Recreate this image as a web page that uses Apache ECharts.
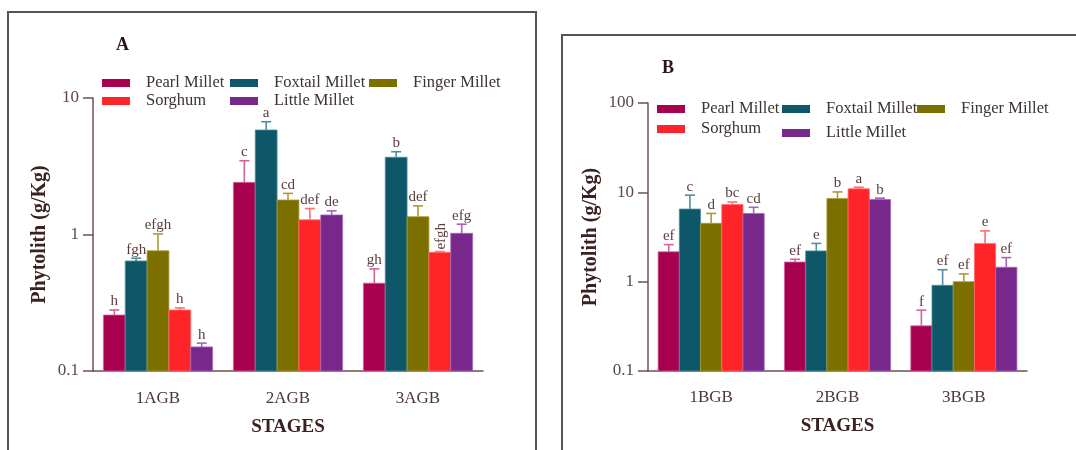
<!DOCTYPE html>
<html>
<head>
<meta charset="utf-8">
<script src="https://cdn.jsdelivr.net/npm/echarts@6/dist/echarts.min.js"></script>
<style>
  html, body { margin: 0; padding: 0; background: #fff; }
  #chart { width: 1076px; height: 450px; }
</style>
</head>
<body>
<div id="chart"></div>
<script>
// categories
const stagesA = ['1AGB', '2AGB', '3AGB'];
const stagesB = ['1BGB', '2BGB', '3BGB'];
const crops = ['Pearl Millet', 'Foxtail Millet', 'Finger Millet', 'Sorghum', 'Little Millet'];

// panel A means (g/Kg), error bar tops and letters
const pearlA = [0.257, 2.41, 0.44];
const foxtailA = [0.64, 5.83, 3.68];
const fingerA = [0.76, 1.79, 1.35];
const sorghumA = [0.28, 1.28, 0.74];
const littleA = [0.15, 1.39, 1.02];
const pearlAErr = [0.28, 3.47, 0.56];
const foxtailAErr = [0.67, 6.7, 4.04];
const fingerAErr = [1.01, 2.0, 1.62];
const sorghumAErr = [0.29, 1.55, 0.75];
const littleAErr = [0.16, 1.49, 1.19];
const pearlALetters = ['h', 'c', 'gh'];
const foxtailALetters = ['fgh', 'a', 'b'];
const fingerALetters = ['efgh', 'cd', 'def'];
const sorghumALetters = ['h', 'def', 'efgh'];
const littleALetters = ['h', 'de', 'efg'];

// panel B
const pearlB = [2.16, 1.66, 0.32];
const foxtailB = [6.5, 2.21, 0.91];
const fingerB = [4.5, 8.55, 1.0];
const sorghumB = [7.3, 10.95, 2.68];
const littleB = [5.8, 8.3, 1.45];
const pearlBErr = [2.6, 1.78, 0.48];
const foxtailBErr = [9.3, 2.68, 1.36];
const fingerBErr = [5.8, 10.1, 1.22];
const sorghumBErr = [7.8, 11.4, 3.7];
const littleBErr = [6.8, 8.6, 1.86];
const pearlBLetters = ['ef', 'ef', 'f'];
const foxtailBLetters = ['c', 'e', 'ef'];
const fingerBLetters = ['d', 'b', 'ef'];
const sorghumBLetters = ['bc', 'a', 'e'];
const littleBLetters = ['cd', 'b', 'ef'];

const colors = ['#a6004e', '#0d5769', '#7b6f00', '#ff2427', '#78278a'];
const tints = ['#d2649c', '#4f8fa1', '#aa9c33', '#ff6f6f', '#a465b9'];
const SERIF = 'Liberation Serif';

const panels = [
  { cats: stagesA, max: 10,
    vals: [pearlA, foxtailA, fingerA, sorghumA, littleA],
    errs: [pearlAErr, foxtailAErr, fingerAErr, sorghumAErr, littleAErr],
    letters: [pearlALetters, foxtailALetters, fingerALetters, sorghumALetters, littleALetters] },
  { cats: stagesB, max: 100,
    vals: [pearlB, foxtailB, fingerB, sorghumB, littleB],
    errs: [pearlBErr, foxtailBErr, fingerBErr, sorghumBErr, littleBErr],
    letters: [pearlBLetters, foxtailBLetters, fingerBLetters, sorghumBLetters, littleBLetters] }
];

// the one letter group that is written upright in the figure
const uprightLabel = { panel: 0, crop: 3, stage: 2 };

const chart = echarts.init(document.getElementById('chart'), null, { renderer: 'canvas' });

function makeSeries(p, i) {
  const pan = panels[p];
  return {
    type: 'custom',
    name: crops[i],
    xAxisIndex: p,
    yAxisIndex: p,
    itemStyle: { color: colors[i] },
    encode: { x: 0, y: 1 },
    data: pan.cats.map((c, k) => [k, pan.vals[i][k]]),
    renderItem(params, api) {
      const k = params.dataIndex;
      const band = api.size([1, 0])[0];
      const barW = band * 0.168;
      const pt = api.coord([api.value(0), api.value(1)]);
      const cx = pt[0] + (i - 2) * barW;
      const top = pt[1];
      const base = api.coord([api.value(0), 0.1])[1];
      const errY = api.coord([api.value(0), pan.errs[i][k]])[1];
      const rotated = p === uprightLabel.panel && i === uprightLabel.crop && k === uprightLabel.stage;
      const label = rotated
        ? { type: 'text', x: cx + 1, y: errY - 2, rotation: Math.PI / 2, z2: 100,
            style: { text: pan.letters[i][k], align: 'left', verticalAlign: 'middle',
                     fontSize: 15, fontFamily: SERIF, fill: '#5b3d3d' } }
        : { type: 'text', x: cx, y: errY - 1, z2: 100,
            style: { text: pan.letters[i][k], align: 'center', verticalAlign: 'bottom',
                     fontSize: 15, fontFamily: SERIF, fill: '#5b3d3d' } };
      return {
        type: 'group',
        children: [
          { type: 'rect', shape: { x: cx - barW / 2, y: top, width: barW, height: base - top },
            style: { fill: colors[i], stroke: tints[i], lineWidth: 0.8 } },
          { type: 'line', shape: { x1: cx, y1: top, x2: cx, y2: errY },
            style: { stroke: tints[i], lineWidth: 1.6 } },
          { type: 'line', shape: { x1: cx - 5, y1: errY, x2: cx + 5, y2: errY },
            style: { stroke: tints[i], lineWidth: 1.6 } },
          label
        ]
      };
    }
  };
}

const axisColor = '#6e5050';
const grids = [
  { left: 93, top: 98, width: 390, height: 273 },
  { left: 648, top: 103, width: 379, height: 268 }
];

function xAxis(p, gap, labelMargin) {
  return {
    type: 'category', gridIndex: p, data: panels[p].cats,
    name: 'STAGES', nameLocation: 'middle', nameGap: gap,
    nameTextStyle: { fontFamily: SERIF, fontWeight: 'bold', fontSize: 19, color: '#3a2222' },
    axisLine: { lineStyle: { color: axisColor, width: 1.5 } },
    axisTick: { alignWithLabel: true, length: 10, lineStyle: { color: axisColor, width: 1.5 } },
    axisLabel: { fontFamily: SERIF, fontSize: 17, color: '#4a3838', margin: labelMargin }
  };
}

function yAxis(p, gap) {
  return {
    type: 'log', logBase: 10, gridIndex: p, min: 0.1, max: panels[p].max,
    name: 'Phytolith (g/Kg)', nameLocation: 'middle', nameRotate: 90, nameGap: gap,
    nameTextStyle: { fontFamily: SERIF, fontWeight: 'bold', fontSize: 20, color: '#3a2222' },
    axisLine: { show: true, lineStyle: { color: axisColor, width: 1.5 } },
    axisTick: { show: true, length: 10, lineStyle: { color: axisColor, width: 1.5 } },
    minorTick: { show: false },
    splitLine: { show: false },
    axisLabel: { fontFamily: SERIF, fontSize: 17, color: '#5b4848', margin: 14,
                 formatter: v => String(+Number(v).toPrecision(3)) }
  };
}

function legend(names, left, top, gap) {
  return {
    data: names, orient: 'vertical', left, top, itemGap: gap, padding: 0,
    icon: 'rect', itemWidth: 28, itemHeight: 8,
    textStyle: { fontFamily: SERIF, fontSize: 16.5, color: '#3d3333', lineHeight: 15, padding: [0, 0, 0, 11] }
  };
}

const series = [];
for (let p = 0; p < 2; p++) for (let i = 0; i < 5; i++) series.push(makeSeries(p, i));

chart.setOption({
  animation: false,
  backgroundColor: '#fff',
  title: [
    { text: 'A', left: 116, top: 36, padding: 0,
      textStyle: { fontFamily: SERIF, fontWeight: 'bold', fontSize: 18, color: '#2b1515' } },
    { text: 'B', left: 662, top: 59, padding: 0,
      textStyle: { fontFamily: SERIF, fontWeight: 'bold', fontSize: 18, color: '#2b1515' } }
  ],
  legend: [
    legend(['Pearl Millet', 'Sorghum'], 102, 74.5, 1),
    legend(['Foxtail Millet', 'Little Millet'], 230, 74.5, 1),
    legend(['Finger Millet'], 369, 74.5, 1),
    legend(['Pearl Millet', 'Sorghum'], 657, 100.5, 3),
    legend(['Foxtail Millet', 'Little Millet'], 782, 100.5, 7),
    legend(['Finger Millet'], 917, 100.5, 1)
  ],
  grid: grids,
  xAxis: [xAxis(0, 47, 19), xAxis(1, 46, 18)],
  yAxis: [yAxis(0, 43), yAxis(1, 47)],
  graphic: [
    { type: 'rect', shape: { x: 8, y: 12, width: 528, height: 470 },
      style: { fill: 'none', stroke: '#555', lineWidth: 2 }, silent: true },
    { type: 'rect', shape: { x: 562, y: 35, width: 530, height: 450 },
      style: { fill: 'none', stroke: '#555', lineWidth: 2 }, silent: true }
  ],
  series
});
</script>
</body>
</html>
